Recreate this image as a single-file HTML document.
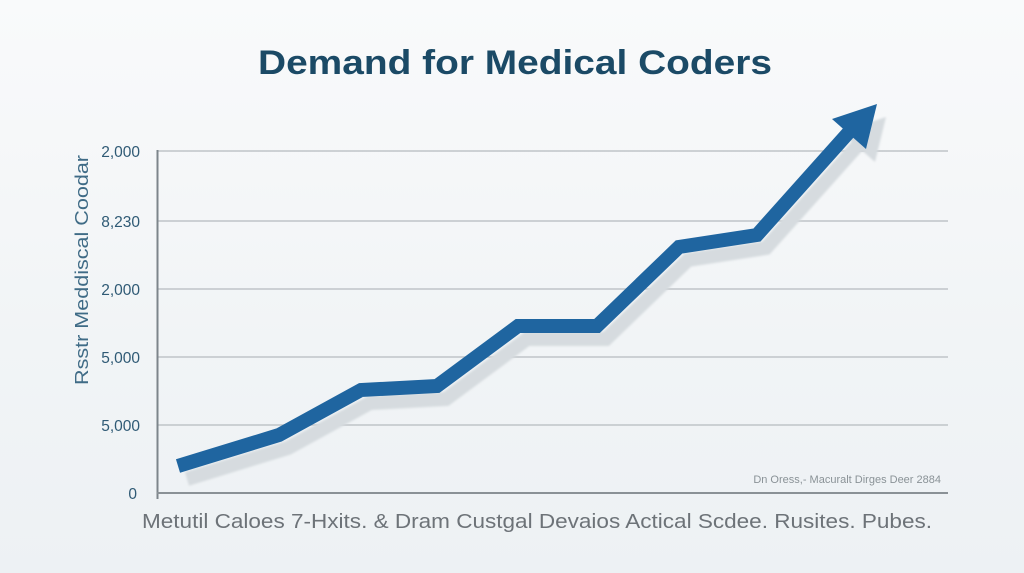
<!DOCTYPE html>
<html><head><meta charset="utf-8"><style>
html,body{margin:0;padding:0;}
body{width:1024px;height:573px;overflow:hidden;background:linear-gradient(180deg,#f9fafb 0%,#f1f4f6 60%,#edf1f4 100%);}
svg{display:block}
</style></head><body>
<svg width="1024" height="573" viewBox="0 0 1024 573" xmlns="http://www.w3.org/2000/svg">
<defs><filter id="b" x="-10%" y="-10%" width="120%" height="120%"><feGaussianBlur stdDeviation="1"/></filter></defs>
<text x="515" y="74" text-anchor="middle" font-family="Liberation Sans, sans-serif" font-weight="bold" font-size="34" fill="#1b4a66" textLength="514" lengthAdjust="spacingAndGlyphs">Demand for Medical Coders</text>
<g stroke="#bfc4c8" stroke-width="1.5">
<line x1="158" y1="151" x2="948" y2="151"/>
<line x1="158" y1="221" x2="948" y2="221"/>
<line x1="158" y1="289" x2="948" y2="289"/>
<line x1="158" y1="357" x2="948" y2="357"/>
<line x1="158" y1="425" x2="948" y2="425"/>
</g>
<line x1="157.5" y1="150" x2="157.5" y2="499" stroke="#7d858b" stroke-width="2"/>
<line x1="157" y1="493" x2="948" y2="493" stroke="#8a9196" stroke-width="2"/>
<g font-family="Liberation Sans, sans-serif" font-size="15.5" fill="#2f5a75" text-anchor="end">
<text x="140" y="157">2,000</text>
<text x="140" y="227">8,230</text>
<text x="140" y="295">2,000</text>
<text x="140" y="363">5,000</text>
<text x="140" y="431">5,000</text>
<text x="137" y="499">0</text>
</g>
<text transform="translate(88,270) rotate(-90)" text-anchor="middle" font-family="Liberation Sans, sans-serif" font-size="18" fill="#3f6b86" textLength="230" lengthAdjust="spacingAndGlyphs">Rsstr Meddiscal Coodar</text>
<g transform="translate(9,13)" fill="#d6dbdf" stroke="#d6dbdf" filter="url(#b)">
<polyline points="178,466 279,435 361,390 437,386 518,326 597,326 679,247 757,235 850,131" fill="none" stroke-width="14" stroke-linejoin="miter"/>
<polygon points="877,104 832,119 866,149" stroke="none"/>
</g>
<g fill="#1f65a0" stroke="#1f65a0">
<polyline points="178,466 279,435 361,390 437,386 518,326 597,326 679,247 757,235 850,131" fill="none" stroke-width="14" stroke-linejoin="miter"/>
<polygon points="877,104 832,119 866,149" stroke="none"/>
</g>
<text x="941" y="483" text-anchor="end" font-family="Liberation Sans, sans-serif" font-size="11" fill="#8a9297">Dn Oress,- Macuralt Dirges Deer 2884</text>
<text x="537" y="528" text-anchor="middle" font-family="Liberation Sans, sans-serif" font-size="20" fill="#6d7378" textLength="790" lengthAdjust="spacingAndGlyphs">Metutil Caloes 7-Hxits. &amp; Dram Custgal Devaios Actical Scdee. Rusites. Pubes.</text>
</svg>
</body></html>
